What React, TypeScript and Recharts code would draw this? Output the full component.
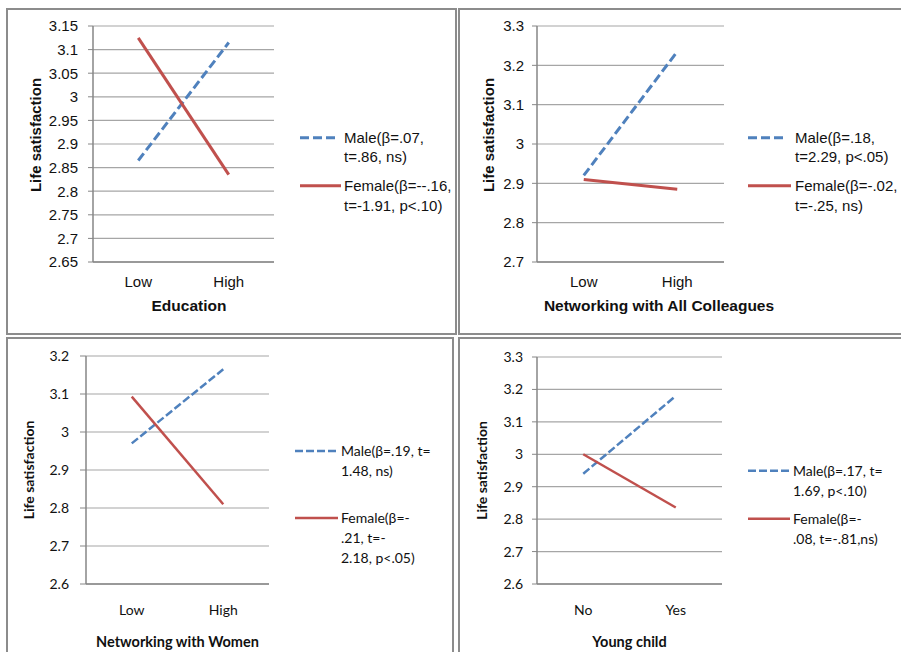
import { CartesianGrid, Legend, Line, LineChart, XAxis, YAxis } from "recharts";

// panel 1 - education
const educationLevels = ["Low", "High"];
const educationMale = [2.865, 3.115];
const educationFemale = [3.125, 2.835];
const educationTicks = [2.65, 2.7, 2.75, 2.8, 2.85, 2.9, 2.95, 3, 3.05, 3.1, 3.15];
const educationMaleLegend = ["Male(β=.07,", "t=.86, ns)"];
const educationFemaleLegend = ["Female(β=--.16,", "t=-1.91, p<.10)"];

// panel 2 - networking with all colleagues
const colleagueLevels = ["Low", "High"];
const colleagueMale = [2.92, 3.235];
const colleagueFemale = [2.91, 2.885];
const colleagueTicks = [2.7, 2.8, 2.9, 3, 3.1, 3.2, 3.3];
const colleagueMaleLegend = ["Male(β=.18,", "t=2.29, p<.05)"];
const colleagueFemaleLegend = ["Female(β=-.02,", "t=-.25, ns)"];

// panel 3 - networking with women
const womenLevels = ["Low", "High"];
const womenMale = [2.97, 3.165];
const womenFemale = [3.093, 2.81];
const womenTicks = [2.6, 2.7, 2.8, 2.9, 3, 3.1, 3.2];
const womenMaleLegend = ["Male(β=.19, t=", "1.48, ns)"];
const womenFemaleLegend = ["Female(β=-", ".21, t=-", "2.18, p<.05)"];

// panel 4 - young child
const childLevels = ["No", "Yes"];
const childMale = [2.94, 3.18];
const childFemale = [3.0, 2.836];
const childTicks = [2.6, 2.7, 2.8, 2.9, 3, 3.1, 3.2, 3.3];
const childMaleLegend = ["Male(β=.17, t=", "1.69, p<.10)"];
const childFemaleLegend = ["Female(β=-", ".08, t=-.81,ns)"];

const BLUE = "#4F81BD";
const RED = "#C0504D";
const AXIS = "#868686";
const GRID = "#a6a6a6";
const INK = "#111";
const SERIES = ["male", "female"];

const fmt = (v: number) => String(Number(v.toFixed(2)));

type PanelProps = {
  box: { x: number; y: number; w: number; h: number };
  plot: { x0: number; x1: number; y0: number; y1: number };
  levels: string[];
  male: number[];
  female: number[];
  ticks: number[];
  xTitle: string;
  titleShift: number;
  titleBase: number;
  yLabelX: number;
  yLabelShift: number;
  maleLegend: string[];
  femaleLegend: string[];
  legend: { x: number; y: number; gap: number; textX: number; lineH: number; maleLen: number; femaleLen: number };
  font: string;
  fontSize: number;
  tickSize: number;
  tickGap: number;
  xTickGap: number;
  lineW: number;
  dash: string;
};

const Panel = (p: PanelProps) => {
  const data = p.levels.map((name, i) => ({ name, male: p.male[i], female: p.female[i] }));
  const margin = {
    left: p.plot.x0 - p.box.x - 60,
    top: p.plot.y0 - p.box.y,
    right: p.box.x + p.box.w - p.plot.x1,
    bottom: p.box.y + p.box.h - p.plot.y1 - 30,
  };
  // excel puts each category in the middle of its half of the plot
  const pad = (p.plot.x1 - p.plot.x0) / (2 * p.levels.length);
  const texts: Record<string, string[]> = { male: p.maleLegend, female: p.femaleLegend };
  const lens: Record<string, number> = { male: p.legend.maleLen, female: p.legend.femaleLen };

  const renderLegend = (props: any) => {
    const payload: any[] = props.payload || [];
    return (
      <div style={{ position: "relative", fontFamily: p.font, fontSize: p.fontSize, color: INK }}>
        {SERIES.map((key, i) => {
          const entry = payload.find((e) => String(e.dataKey) === key);
          if (!entry) return null;
          return (
            <div
              key={key}
              style={{ position: "absolute", left: 0, top: i === 0 ? 0 : p.legend.gap, display: "flex", alignItems: "flex-start" }}
            >
              <svg width={p.legend.textX} height={p.legend.lineH} style={{ display: "block" }}>
                <line
                  x1={0}
                  x2={lens[key]}
                  y1={p.legend.lineH / 2}
                  y2={p.legend.lineH / 2}
                  stroke={entry.color}
                  strokeWidth={p.lineW}
                  strokeDasharray={key === "male" ? p.dash : undefined}
                />
              </svg>
              <div style={{ lineHeight: `${p.legend.lineH}px`, whiteSpace: "nowrap" }}>
                {texts[key].map((t) => (
                  <div key={t}>{t}</div>
                ))}
              </div>
            </div>
          );
        })}
      </div>
    );
  };

  return (
    <div style={{ position: "absolute", left: p.box.x, top: p.box.y }}>
      <LineChart width={p.box.w} height={p.box.h} data={data} margin={margin} style={{ fontFamily: p.font }}>
        <CartesianGrid vertical={false} stroke={GRID} strokeWidth={1.2} />
        <XAxis
          dataKey="name"
          height={30}
          padding={{ left: pad, right: pad }}
          axisLine={{ stroke: AXIS, strokeWidth: 1.5 }}
          tickLine={false}
          tickSize={0}
          tickMargin={p.xTickGap}
          tick={{ fill: INK, fontSize: p.fontSize }}
          label={(lp: any) => {
            const vb = lp.viewBox;
            return (
              <text
                x={p.plot.x0 - p.box.x + (p.plot.x1 - p.plot.x0) / 2 + p.titleShift}
                y={vb.y + p.titleBase}
                textAnchor="middle"
                fontWeight="bold"
                fontSize={p.fontSize + 0.5}
                fill={INK}
                fontFamily={p.font}
              >
                {p.xTitle}
              </text>
            );
          }}
        />
        <YAxis
          type="number"
          width={60}
          domain={[p.ticks[0], p.ticks[p.ticks.length - 1]]}
          ticks={p.ticks}
          interval={0}
          tickFormatter={fmt}
          axisLine={{ stroke: AXIS, strokeWidth: 1.5 }}
          tickLine={{ stroke: AXIS }}
          tickSize={p.tickSize}
          tickMargin={p.tickGap}
          tick={{ fill: INK, fontSize: p.fontSize }}
          label={(lp: any) => {
            const vb = lp.viewBox;
            const cx = p.yLabelX - p.box.x;
            const cy = vb.y + vb.height / 2 + p.yLabelShift;
            return (
              <text
                x={cx}
                y={cy}
                transform={`rotate(-90 ${cx} ${cy})`}
                textAnchor="middle"
                dominantBaseline="central"
                fontWeight="bold"
                fontSize={p.fontSize}
                fill={INK}
                fontFamily={p.font}
              >
                Life satisfaction
              </text>
            );
          }}
        />
        <Legend
          layout="vertical"
          align="center"
          verticalAlign="middle"
          wrapperStyle={{
            left: p.legend.x - p.box.x,
            top: p.legend.y - p.box.y - p.legend.lineH / 2,
            width: 160,
            height: 120,
          }}
          content={renderLegend}
        />
        <Line
          dataKey="male"
          name="Male"
          stroke={BLUE}
          strokeWidth={p.lineW}
          strokeDasharray={p.dash}
          dot={false}
          activeDot={false}
          isAnimationActive={false}
        />
        <Line
          dataKey="female"
          name="Female"
          stroke={RED}
          strokeWidth={p.lineW}
          dot={false}
          activeDot={false}
          isAnimationActive={false}
        />
      </LineChart>
    </div>
  );
};

const TOP_FONT = "'Liberation Sans', Arial, sans-serif";
const BOTTOM_FONT = "Lato, 'Open Sans', sans-serif";

const borderStyle = (x: number, y: number, w: number, h: number) => ({
  position: "absolute" as const,
  left: x,
  top: y,
  width: w,
  height: h,
  boxSizing: "border-box" as const,
  border: "2px solid #8c8c8c",
});

export default function App() {
  return (
    <div style={{ position: "absolute", left: 0, top: 0, width: 901, height: 652, overflow: "hidden", background: "#fff" }}>
      <div style={borderStyle(6, 8, 451, 327)} />
      <div style={borderStyle(458, 8, 460, 327)} />
      <div style={borderStyle(6, 337, 448, 330)} />
      <div style={borderStyle(458, 337, 460, 330)} />

      <Panel
        box={{ x: 6, y: 8, w: 451, h: 327 }}
        plot={{ x0: 93, x1: 274, y0: 26, y1: 262 }}
        levels={educationLevels}
        male={educationMale}
        female={educationFemale}
        ticks={educationTicks}
        xTitle="Education"
        titleShift={5.5}
        titleBase={48.5}
        yLabelX={35}
        yLabelShift={-9}
        maleLegend={educationMaleLegend}
        femaleLegend={educationFemaleLegend}
        legend={{ x: 300, y: 137.5, gap: 48.5, textX: 44, lineH: 19.5, maleLen: 37, femaleLen: 41 }}
        font={TOP_FONT}
        fontSize={15}
        tickSize={5}
        tickGap={10}
        xTickGap={14}
        lineW={3}
        dash="9 4"
      />
      <Panel
        box={{ x: 458, y: 8, w: 443, h: 327 }}
        plot={{ x0: 537, x1: 724, y0: 26, y1: 262 }}
        levels={colleagueLevels}
        male={colleagueMale}
        female={colleagueFemale}
        ticks={colleagueTicks}
        xTitle="Networking with All Colleagues"
        titleShift={28.5}
        titleBase={48.5}
        yLabelX={488.5}
        yLabelShift={-9}
        maleLegend={colleagueMaleLegend}
        femaleLegend={colleagueFemaleLegend}
        legend={{ x: 748, y: 137.5, gap: 48.5, textX: 47, lineH: 19.5, maleLen: 39, femaleLen: 43 }}
        font={TOP_FONT}
        fontSize={15}
        tickSize={5}
        tickGap={8}
        xTickGap={14}
        lineW={3}
        dash="9 4"
      />
      <Panel
        box={{ x: 6, y: 337, w: 448, h: 315 }}
        plot={{ x0: 86, x1: 269, y0: 356, y1: 584 }}
        levels={womenLevels}
        male={womenMale}
        female={womenFemale}
        ticks={womenTicks}
        xTitle="Networking with Women"
        titleShift={0}
        titleBase={63}
        yLabelX={28}
        yLabelShift={0}
        maleLegend={womenMaleLegend}
        femaleLegend={womenFemaleLegend}
        legend={{ x: 295, y: 451, gap: 67, textX: 46, lineH: 20, maleLen: 43, femaleLen: 43 }}
        font={BOTTOM_FONT}
        fontSize={14}
        tickSize={6}
        tickGap={11}
        xTickGap={21}
        lineW={2.5}
        dash="8 3"
      />
      <Panel
        box={{ x: 458, y: 337, w: 443, h: 315 }}
        plot={{ x0: 537, x1: 722, y0: 357, y1: 584 }}
        levels={childLevels}
        male={childMale}
        female={childFemale}
        ticks={childTicks}
        xTitle="Young child"
        titleShift={0}
        titleBase={63}
        yLabelX={481}
        yLabelShift={0}
        maleLegend={childMaleLegend}
        femaleLegend={childFemaleLegend}
        legend={{ x: 748, y: 471, gap: 48, textX: 45, lineH: 19.5, maleLen: 42, femaleLen: 42 }}
        font={BOTTOM_FONT}
        fontSize={14}
        tickSize={5}
        tickGap={9}
        xTickGap={21}
        lineW={2.5}
        dash="8 3"
      />
    </div>
  );
}
